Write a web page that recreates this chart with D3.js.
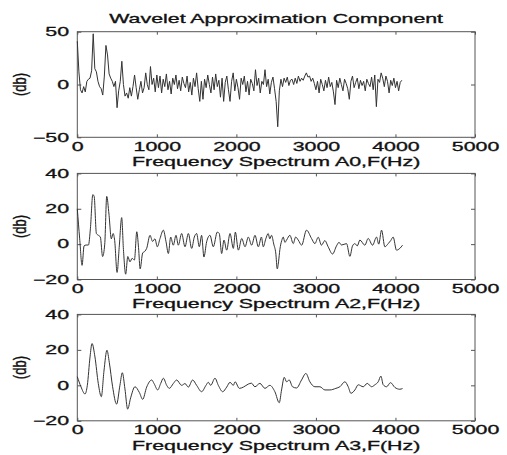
<!DOCTYPE html>
<html>
<head>
<meta charset="utf-8">
<script src="https://cdn.jsdelivr.net/npm/d3@7"></script>
<style>
  body { margin: 0; background: #fff; }
  svg text { font-family: "Liberation Sans", Arial, sans-serif; font-size: 12px; fill: #111; stroke: #111; stroke-width: 0.3; }
</style>
</head>
<body>
<div id="chart"></div>
<script>
// A0: raw spectrum, one value every 20 Hz from 0 Hz
const A0_STEP = 20;
const a0Values = [
  41, 12, -5, -8, -2, -7, 3, 5, 6, 13,
  48, 15, 12, 3, -2, -4, -10, 8, 37, 28,
  10, 6, 3, -2, 3, -22, -6, 3, 22, 0,
  -11, -8, -13, -3, -11, -2, 9, -3, -14, -5,
  3, -8, -3, 11, 0, -5, 17, 0, 6, -7,
  9, -3, 8, -8, 5, -2, 10, -5, 3, -9,
  6, 0, 9, -4, 4, -6, 7, 1, -3, 8,
  -7, 2, -10, 6, -2, 11, -4, -16, 3, -14,
  5, -3, 9, 0, -8, 7, -5, 10, -2, 4,
  -12, 6, -16, 2, 8, -5, -16, 3, 11, -6,
  5, -3, -14, 6, 0, 8, -7, 3, -10, 5,
  1, -6, 14, -1, 6, -8, 3, 0, 14, -2,
  5, -9, 2, 7, -4, -16, -40, -6, 5, -2,
  6, 2, 7, -1, 4, 5, 0, 6, 1, 8,
  3, 6, 4, 8, 11, 7, 8, 3, 6, 1,
  -5, 3, -8, 5, 0, -6, 4, -3, 7, -2,
  2, -7, -19, 4, -3, 6, 0, -6, 5, 1,
  -4, -14, 3, 8, -3, 2, 6, -4, 4, -1,
  3, -6, 5, 1, -2, 7, -5, 9, -21, 5,
  2, 11, 6, -2, 8, 3, -8, 4, -1, 6,
  -3, 3, -6, 2, 4
];

// A2: level-2 approximation (frequency in Hz, level in db)
const a2Freq = [
  0, 30, 60, 85, 110, 140, 165, 195, 212, 240, 265, 290, 318, 345, 370, 398,
  428, 450, 470, 500, 528, 558, 580, 608, 635, 662, 690, 718, 748, 770, 790, 822,
  850, 872, 914, 947, 976, 1006, 1040, 1082, 1115, 1145, 1174, 1207, 1241, 1270, 1312, 1354,
  1396, 1438, 1471, 1500, 1534, 1563, 1592, 1626, 1668, 1710, 1760, 1785, 1815, 1844, 1878, 1920,
  1962, 1987, 2025, 2067, 2109, 2150, 2192, 2234, 2276, 2315, 2338, 2370, 2400, 2420, 2442, 2470,
  2495, 2514, 2530, 2547, 2570, 2589, 2610, 2631, 2673, 2715, 2745, 2778, 2820, 2882, 2945, 2987,
  3029, 3070, 3112, 3154, 3209, 3259, 3290, 3322, 3385, 3427, 3460, 3490, 3520, 3553, 3615, 3657,
  3712, 3762, 3790, 3825, 3867, 3909, 3940, 3971, 4013, 4055, 4089
];
const a2Values = [
  20, 3, -12, -1, -0.5, -0.5, 9, 28, 27, 6, 5, 4, -7, 0, 27, 17,
  3, 6, 2, -16, -1, 15, -3, -17, -7, -10, -8, -9, 7, -2, -14, -5,
  -4, -2.4, 5, 1.5, 3, -1.5, 3.2, 7.9, 1.5, -5.3, 4, -0.6, 5, -0.6, 6, -1.5,
  6, -2.4, 4, 6, -1.5, 5, -7.3, 1.3, 5, -1.5, 6.8, 6, -5.3, 2.3, -3.4, 6,
  -2.4, 6.8, -3.4, 3.2, -1.5, 4, -0.6, 5, -1.5, 4, -1.5, 3, 6, 3, 5, 0,
  -5, -14, -10, -3, 2, 4, 1, 2.3, 5, 0.3, 4, 2.3, -0.6, 7.9, 3.2, 0.3,
  3.9, -0.6, 2, -1.5, -5.6, -1, 1, -0.5, 0.3, -6.9, -1, 0.3, -1, 2.3, -0.6, 3.2,
  -0.6, 4, 0, 7.9, -1.5, 0.3, 2, 4, -3.4, -2.4, -0.6
];

// A3: level-3 approximation
const a3Freq = [
  0, 46, 97, 126, 160, 185, 222, 264, 302, 335, 373, 402, 444, 494, 536, 566,
  599, 633, 671, 725, 780, 822, 872, 935, 965, 1011, 1048, 1082, 1124, 1157, 1207, 1249,
  1312, 1354, 1396, 1450, 1500, 1563, 1618, 1647, 1677, 1731, 1773, 1828, 1878, 1920, 1962, 1983,
  2038, 2088, 2150, 2190, 2233, 2296, 2359, 2421, 2484, 2539, 2568, 2602, 2631, 2664, 2706, 2757,
  2819, 2874, 2924, 2987, 3050, 3113, 3176, 3251, 3301, 3364, 3406, 3440, 3490, 3532, 3595, 3645,
  3700, 3741, 3783, 3817, 3846, 3888, 3938, 3993, 4055, 4089
];
const a3Values = [
  4.9, -0.8, -4.9, 0, 16, 23.6, 16, 1, -6.4, 8, 19.8, 13, -0.8, -10.6, 0, 7.1,
  -2, -13.4, -7, -0.8, -4, -7.9, -1, 3, 1, -2.6, 1, 4, 0, -1.7, 1, 3,
  0, 1, -1, 3, 0, -3.6, 0, 1.7, 0, 4, 0, -3.6, -1, 1.7, 0, 2,
  -1.7, -1, 0.7, 1.2, -0.8, 1.1, -1.7, 0, -3.6, -9.8, -2.6, 4.5, 2, 3, -0.8, -1.5,
  3, 6.7, 2, -0.8, -0.8, -2.6, -2.6, -1.7, -0.8, 2, -0.8, -4.5, -2.6, 0.3, -0.8, 1.1,
  -0.8, 0.3, 2, 5.2, 0.3, -0.8, 1.5, -1.2, -2.2, -1.8
];

const xTicks = [0, 1000, 2000, 3000, 4000, 5000];
const xDomain = [0, 5000];

const title = "Wavelet Approximation Component";
const yLabel = "(db)";

const a0 = a0Values.map((v, i) => ({ f: i * A0_STEP, v }));
const a2 = a2Freq.map((f, i) => ({ f, v: a2Values[i] }));
const a3 = a3Freq.map((f, i) => ({ f, v: a3Values[i] }));

const panels = [
  { data: a0, yDomain: [-50, 50], yTicks: [-50, 0, 50], xLabel: "Frequency Spectrum A0,F(Hz)",
    top: 31.7, bottom: 137.3, curve: d3.curveLinear },
  { data: a2, yDomain: [-20, 40], yTicks: [-20, 0, 20, 40], xLabel: "Frequency Spectrum A2,F(Hz)",
    top: 173.4, bottom: 279.5, curve: d3.curveMonotoneX },
  { data: a3, yDomain: [-20, 40], yTicks: [-20, 0, 20, 40], xLabel: "Frequency Spectrum A3,F(Hz)",
    top: 314.4, bottom: 420.8, curve: d3.curveMonotoneX }
];

const W = 507, H = 455;
const left = 77.3, right = 475;
const SX = 1.78;           // text in the picture is stretched sideways
const frameColor = "#555";
const lineColor = "#333";

const svg = d3.select("#chart")
  .append("svg")
  .attr("width", W)
  .attr("height", H);

const x = d3.scaleLinear().domain(xDomain).range([left, right]);

function wideText(sel, px, py, str, anchor) {
  return sel.append("text")
    .attr("transform", `translate(${px},${py}) scale(${SX},1)`)
    .attr("text-anchor", anchor)
    .text(str);
}

// title
wideText(svg, (left + right) / 2, 22.7, title, "middle");

panels.forEach((p, k) => {
  const y = d3.scaleLinear().domain(p.yDomain).range([p.bottom, p.top]);
  const g = svg.append("g").attr("class", "panel-" + k);

  // axes with inward ticks on all four sides
  const bx = g.append("g")
    .attr("transform", `translate(0,${p.bottom})`)
    .call(d3.axisBottom(x).tickValues(xTicks).tickFormat(d3.format("d"))
      .tickSize(-3).tickSizeOuter(0).tickPadding(5));
  bx.selectAll("text").attr("transform", `scale(${SX},1)`);

  g.append("g")
    .attr("transform", `translate(0,${p.top})`)
    .call(d3.axisTop(x).tickValues(xTicks).tickSize(-3).tickSizeOuter(0).tickFormat(""));

  const ly = g.append("g")
    .attr("transform", `translate(${left},0)`)
    .call(d3.axisLeft(y).tickValues(p.yTicks).tickSize(-4).tickSizeOuter(0).tickPadding(0));
  ly.selectAll("text").attr("x", -8.3 / SX).attr("transform", `scale(${SX},1)`);

  g.append("g")
    .attr("transform", `translate(${right},0)`)
    .call(d3.axisRight(y).tickValues(p.yTicks).tickSize(-4).tickSizeOuter(0).tickFormat(""));

  g.selectAll(".domain").remove();
  g.selectAll(".tick line").attr("stroke", frameColor);
  g.selectAll(".tick text").attr("fill", "#111").style("font-size", "12px")
    .style("font-family", "'Liberation Sans', Arial, sans-serif");

  // frame
  g.append("rect")
    .attr("x", left)
    .attr("y", p.top)
    .attr("width", right - left)
    .attr("height", p.bottom - p.top)
    .attr("fill", "none")
    .attr("stroke", frameColor)
    .attr("stroke-width", 1);

  // trace
  const line = d3.line()
    .x(d => x(d.f))
    .y(d => y(d.v))
    .curve(p.curve);

  g.append("path")
    .datum(p.data)
    .attr("fill", "none")
    .attr("stroke", lineColor)
    .attr("stroke-width", 1)
    .attr("stroke-linejoin", "round")
    .attr("d", line);

  // labels
  wideText(g, (left + right) / 2, p.bottom + 28.7, p.xLabel, "middle");

  g.append("text")
    .attr("transform", `translate(25.5,${(p.top + p.bottom) / 2}) scale(1.45,1) rotate(-90)`)
    .attr("text-anchor", "middle")
    .style("font-size", "13px")
    .text(yLabel);
});
</script>
</body>
</html>
